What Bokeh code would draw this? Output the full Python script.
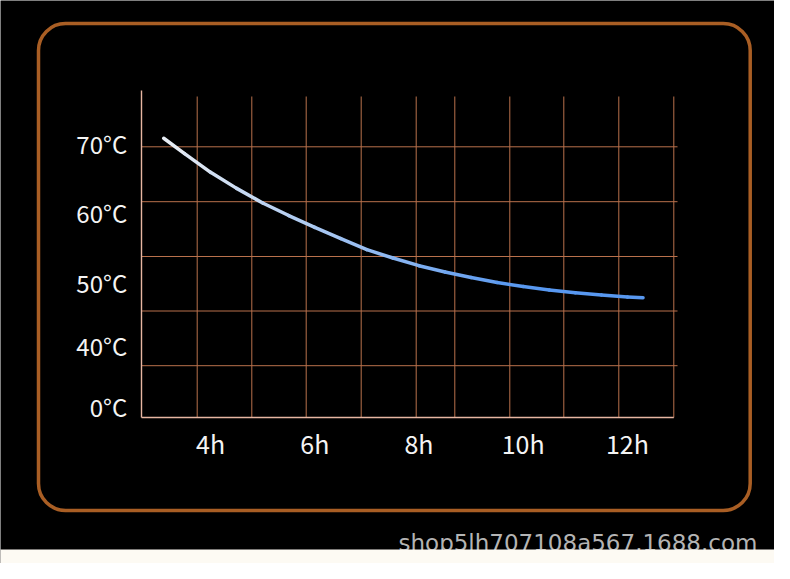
import numpy as np
from bokeh.plotting import figure
from bokeh.models import Range1d, BoxAnnotation, ColumnDataSource
from bokeh.core.properties import value
from bokeh.embed import file_html
from bokeh.resources import INLINE

# ---- data ----
hours = [3.1, 3.5, 4.0, 4.5, 5.0, 5.5, 6.0, 6.5, 7.0, 7.5, 8.0, 8.5, 9.0, 9.5,
         10.0, 10.5, 11.0, 11.5, 12.0, 12.3]
temps = [71.0, 68.8, 66.1, 63.8, 61.7, 59.9, 58.2, 56.6, 55.0, 53.8, 52.7, 51.8,
         51.0, 50.3, 49.7, 49.2, 48.8, 48.5, 48.2, 48.1]
x_ticks = [4, 6, 8, 10, 12]
x_tick_labels = ["4h", "6h", "8h", "10h", "12h"]
y_ticks = [70, 60, 50, 41, 32.25]          # the source axis is broken below 50
y_tick_labels = ["70°C", "60°C", "50°C", "40°C", "0°C"]
watermark_text = "shop5lh707108a567.1688.com"

# ---- layout (pixel geometry of the picture, not data) ----
W, H = 774, 563
PX_PER_HOUR, PX_AT_8H = 52.1, 418.5
PX_PER_DEG, PY_AT_70 = 6.965, 144.7


def hx(px):
    return 8 + (px - PX_AT_8H) / PX_PER_HOUR


def ty(py):
    return 70 - (py - PY_AT_70) / PX_PER_DEG


AXIS_LEFT, AXIS_RIGHT, AXIS_TOP, AXIS_BOTTOM = 141, 673.3, 90, 417
V_GRID_PX = [196.7, 251.3, 305.7, 360.7, 415.7, 454.3, 509.3, 563.3, 618.3, 673.3]
V_GRID_TOP_PX = 96
H_GRID_PX = [146.3, 201.2, 256, 310.5, 365.2]
H_GRID_RIGHT_PX = 677
X_LABEL_PY = 443.5
Y_LABEL_PX = 126.7

FONT = "Noto Sans CJK SC"
GRID_COLOR = "#b9714c"
AXIS_COLOR = "#e7b6a2"
BORDER_COLOR = "#a95e24"
CREAM = "#fdfaf3"

p = figure(width=W, height=H, output_backend="svg", toolbar_location=None,
           x_range=Range1d(hx(0), hx(W)), y_range=Range1d(ty(H), ty(0)),
           min_border=0, x_axis_location=None, y_axis_location=None)
p.background_fill_color = "black"
p.border_fill_color = "black"
p.outline_line_color = None
p.grid.visible = False

# rounded frame
p.add_layout(BoxAnnotation(left=hx(38), right=hx(749.7), top=ty(23), bottom=ty(510),
                           fill_color=None, fill_alpha=0,
                           line_color=BORDER_COLOR, line_alpha=1.0, line_width=3.5,
                           border_radius=27))

# grid lines
vg = [hx(v) for v in V_GRID_PX]
p.segment(x0=vg, y0=[ty(AXIS_BOTTOM)] * len(vg), x1=vg, y1=[ty(V_GRID_TOP_PX)] * len(vg),
          line_color=GRID_COLOR, line_width=1)
hg = [ty(v) for v in H_GRID_PX]
p.segment(x0=[hx(AXIS_LEFT)] * len(hg), y0=hg, x1=[hx(H_GRID_RIGHT_PX)] * len(hg), y1=hg,
          line_color=GRID_COLOR, line_width=1)

# axis lines
p.segment(x0=[hx(AXIS_LEFT), hx(AXIS_LEFT)], y0=[ty(AXIS_TOP), ty(AXIS_BOTTOM)],
          x1=[hx(AXIS_LEFT), hx(AXIS_RIGHT)], y1=[ty(AXIS_BOTTOM), ty(AXIS_BOTTOM)],
          line_color=AXIS_COLOR, line_width=1.4)

# gradient curve
c0 = np.array([230, 236, 244])
c1 = np.array([88, 152, 240])
xs, ys, cols = [], [], []
n = len(hours)
for i in range(n - 1):
    t = min(1.0, (i / (n - 2)) * 1.35)
    c = (c0 + (c1 - c0) * t).astype(int)
    xs.append([hours[i], hours[i + 1]])
    ys.append([temps[i], temps[i + 1]])
    cols.append("#%02x%02x%02x" % tuple(c))
src = ColumnDataSource(dict(xs=xs, ys=ys, color=cols))
p.multi_line("xs", "ys", source=src, line_color="color", line_width=3.5, line_cap="round")

# tick labels
p.text(x=x_ticks, y=[ty(X_LABEL_PY)] * len(x_ticks), text=x_tick_labels,
       text_font=value(FONT), text_font_size="25px", text_color="#f4f4f4",
       text_align="center", text_baseline="middle", y_offset=-1)
p.text(x=[hx(Y_LABEL_PX)] * len(y_ticks), y=y_ticks, text=y_tick_labels,
       text_font=value(FONT), text_font_size="24px", text_color="#f4f4f4",
       text_align="right", text_baseline="middle", y_offset=-2)

# watermark just above the cream band
p.text(x=[hx(398)], y=[ty(542)], text=[watermark_text],
       text_font=value("DejaVu Sans"), text_font_size="23px", text_color="#b4b4b4",
       text_align="left", text_baseline="alphabetic")
p.quad(left=[hx(0) - 1], right=[hx(W) + 1], top=[ty(549)], bottom=[ty(H) - 1],
       fill_color=CREAM, line_color=None)

open("out.html", "w").write(file_html(p, INLINE))
